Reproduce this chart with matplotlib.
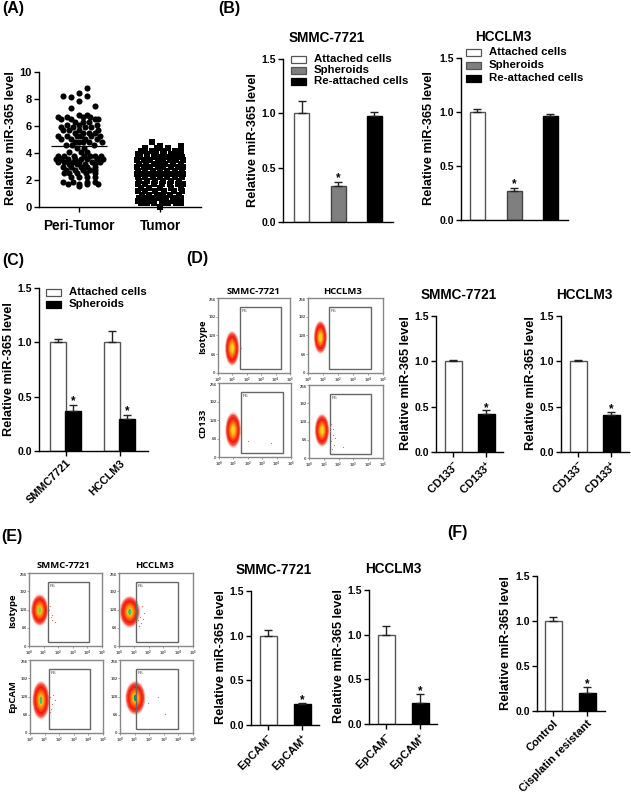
import matplotlib
matplotlib.use('Agg')
import matplotlib.pyplot as plt
from matplotlib.patches import Ellipse, Rectangle

plt.rcParams['font.family'] = ['Liberation Sans', 'DejaVu Sans']
plt.rcParams['font.weight'] = 'bold'
plt.rcParams['mathtext.fontset'] = 'custom'
plt.rcParams['mathtext.bf'] = 'Liberation Sans:bold'
plt.rcParams['mathtext.rm'] = 'Liberation Sans:bold'

W, H = 631, 793
YLABEL = 'Relative miR-365 level'

peri_levels = [8.79, 8.47, 8.25, 8.22, 8.12, 7.85, 7.5, 7.33, 6.85, 6.7, 6.5, 6.3, 6.1, 5.9, 5.7, 5.5, 5.25,
               5.05, 4.8, 4.6, 4.35, 4.1, 3.75, 3.55, 3.35, 3.15, 2.95, 2.75, 2.55, 2.25, 1.85, 1.7, 1.55]
peri_offsets = [[0.1], [0.0], [-0.2], [0.1], [-0.1], [0.0], [0.2], [-0.1], [0.0, 0.1],
                [-0.26, -0.15, 0.05, 0.14], [-0.22, -0.1, 0.2, 0.24], [-0.05, 0.05, 0.12],
                [-0.15, 0.0, 0.22], [-0.22, -0.08, 0.08, 0.15], [-0.2, -0.12, 0.0, 0.24],
                [-0.05, 0.05, 0.12, 0.2], [-0.26, -0.15, -0.02, 0.02, 0.15, 0.26],
                [-0.22, -0.1, 0.08, 0.22], [-0.05, 0.0, 0.05, 0.12, 0.28], [-0.16, -0.09, 0.18],
                [-0.02, 0.06], [-0.12, 0.02, 0.1],
                [-0.26, -0.18, -0.06, 0.06, 0.13, 0.2, 0.27],
                [-0.29, -0.22, -0.14, -0.05, 0.02, 0.1, 0.22, 0.29],
                [-0.26, -0.18, -0.08, 0.0, 0.16, 0.26], [-0.12, -0.03, 0.08, 0.2],
                [-0.2, -0.1, 0.03, 0.1, 0.2], [-0.16, -0.05, 0.05, 0.14, 0.2],
                [-0.18, -0.12, -0.02, 0.09, 0.2], [-0.1, 0.0, 0.1, 0.2],
                [-0.2, -0.08, 0.1, 0.2], [-0.14, 0.0, 0.1, 0.24], [0.0]]
tumor_levels = [4.85, 4.55, 4.35, 4.15, 3.95, 3.7, 3.45, 3.2, 2.95, 2.7, 2.45, 2.2, 1.95, 1.7, 1.42, 1.15, 0.9, 0.66, 0.45, 0.28, 0.0]
tumor_offsets = [[-0.1], [0.0, 0.26], [-0.18, -0.04, 0.1, 0.26], [-0.24, -0.1, 0.04, 0.18, 0.26],
                 [-0.27, -0.16, -0.05, 0.05, 0.13, 0.24], [-0.25, -0.16, -0.08, 0.02, 0.1, 0.2, 0.27],
                 [-0.28, -0.2, -0.12, -0.03, 0.04, 0.12, 0.2, 0.28],
                 [-0.26, -0.17, -0.08, 0.0, 0.06, 0.16, 0.26],
                 [-0.28, -0.2, -0.12, -0.03, 0.04, 0.13, 0.22, 0.28],
                 [-0.27, -0.18, -0.09, 0.0, 0.09, 0.18, 0.27],
                 [-0.28, -0.2, -0.13, -0.04, 0.05, 0.15, 0.22, 0.28],
                 [-0.27, -0.19, -0.09, 0.0, 0.09, 0.19, 0.27],
                 [-0.26, -0.16, -0.06, 0.04, 0.14, 0.24], [-0.27, -0.18, -0.08, 0.02, 0.12, 0.22, 0.28],
                 [-0.24, -0.13, 0.0, 0.13, 0.26], [-0.27, -0.18, -0.06, 0.05, 0.17, 0.27],
                 [-0.22, -0.14, -0.04, 0.04, 0.12, 0.24], [-0.26, -0.18, -0.08, 0.0, 0.08, 0.18, 0.26],
                 [-0.27, -0.13, 0.04, 0.16, 0.26],
                 [-0.24, -0.16, -0.07, 0.02, 0.1, 0.2, 0.26], [0.0]]
peri_mean = 4.55
tumor_mean = 2.35

# bar panels
b_labels = ['Attached cells', 'Spheroids', 'Re-attached cells']
b1_values = [1.0, 0.33, 0.98]
b1_errors = [0.115, 0.035, 0.03]
b2_values = [1.0, 0.27, 0.96]
b2_errors = [0.025, 0.025, 0.02]

c_groups = ['SMMC7721', 'HCCLM3']
c_attached = [1.0, 1.0]
c_attached_err = [0.03, 0.105]
c_spheroids = [0.37, 0.29]
c_spheroids_err = [0.05, 0.04]

cd133_labels = ['CD133$^{-}$', 'CD133$^{+}$']
d1_values = [1.0, 0.42]
d1_errors = [0.015, 0.04]
d2_values = [1.0, 0.41]
d2_errors = [0.02, 0.03]

epcam_labels = ['EpCAM$^{-}$', 'EpCAM$^{+}$']
e1_values = [1.0, 0.23]
e1_errors = [0.065, 0.02]
e2_values = [1.0, 0.24]
e2_errors = [0.10, 0.10]

f_labels = ['Control', 'Cisplatin resistant']
f_values = [1.0, 0.20]
f_errors = [0.04, 0.07]

# flow plots: cloud centre x (decades), centre y, half width, half height, gate left/right
d_clouds = [(0.98, 84, 0.5, 60), (0.83, 122, 0.45, 57), (0.98, 93, 0.55, 62), (0.88, 97, 0.5, 58)]
d_gates = [(1.5, 4.4), (1.41, 4.17), (1.52, 4.42), (1.4, 4.19)]
e_clouds = [(0.73, 126, 0.6, 56), (0.73, 120, 0.7, 56), (0.75, 115, 0.6, 68), (1.05, 123, 0.7, 60)]
e_gates = [(1.28, 4.11), (1.14, 3.98), (1.27, 4.09), (1.11, 3.98)]
e_specks_x = [[1.4, 1.5, 1.6, 1.45, 1.8, 1.55], [1.3, 1.45, 1.6, 1.5, 1.7, 1.35, 1.55, 1.25], [1.4, 1.5, 1.7, 1.45, 1.6, 1.35], [2.6, 3.1, 1.9]]
e_specks_y = [[125, 100, 90, 140, 85, 110], [130, 100, 95, 80, 115, 70, 140, 90], [125, 100, 115, 85, 135, 75], [125, 65, 105]]
d_specks_x = [[1.6], [], [2.0, 3.6], [1.45, 1.6, 1.5, 1.7, 1.4, 1.55, 1.75, 2.3, 1.5, 1.6]]
d_specks_y = [[85], [], [55, 50], [110, 80, 60, 45, 95, 30, 70, 40, 120, 100]]
flow_yticks = [0, 64, 128, 192, 256]
flow_xticks = [0, 1, 2, 3, 4, 5]
cloud_scales = [1.0, 0.93, 0.85, 0.72, 0.6, 0.48, 0.36, 0.24]
cloud_colors = ['#ffd8d0', '#fb8f80', '#f44030', '#f01a10', '#f84010', '#ff7010', '#ffa010', '#ffd020']


def add_axes_px(fig, x0, x1, y_top, y_bottom):
    return fig.add_axes([x0 / W, 1 - y_bottom / H, (x1 - x0) / W, (y_bottom - y_top) / H])


def style_axis(ax):
    for side in ['top', 'right']:
        ax.spines[side].set_visible(False)
    for side in ['left', 'bottom']:
        ax.spines[side].set_linewidth(1.0)
    ax.patch.set_alpha(0)
    ax.tick_params(axis='y', length=3.5, width=1.0, labelsize=7.5, pad=1.5)
    ax.tick_params(axis='x', length=3.5, width=1.0, labelsize=8, pad=1.5)


def bar_panel(fig, box, centers, values, errors, colors, tick_labels=None, star_idx=(1,), width_px=16):
    x0, x1, y_top, y_bottom = box
    ax = add_axes_px(fig, x0, x1, y_top, y_bottom)
    ax.set_xlim(x0, x1)
    ax.set_ylim(0, 1.5)
    for c, v, e, col in zip(centers, values, errors, colors):
        edge = '#555555' if col == 'white' else ('#444444' if col != 'black' else 'black')
        ax.bar(c, v, width=width_px, color=col, edgecolor=edge, linewidth=1.0)
        ax.errorbar(c, v, yerr=[[0], [e]], color='#222222', capsize=2.6, elinewidth=1.0, capthick=1.0)
    for i in star_idx:
        ax.text(centers[i], values[i] + errors[i] + 0.095, '*', ha='center', va='top', fontsize=8.5)
    style_axis(ax)
    ax.set_yticks([0, 0.5, 1.0, 1.5], ['0.0', '0.5', '1.0', '1.5'])
    ax.set_xticks([] if tick_labels is None else list(tick_labels[0]))
    if tick_labels is not None:
        ax.set_xticklabels(tick_labels[1], rotation=45, ha='right', rotation_mode='anchor', fontsize=8)
    return ax


def flow_panel(fig, box, cloud, gate, specks, core=None):
    x0, x1, y_top, y_bottom = box
    ax = add_axes_px(fig, x0, x1, y_top, y_bottom)
    ax.set_xlim(0, 5)
    ax.set_ylim(0, 256)
    cx, cy, hw, hh = cloud
    ax.plot(specks[0], specks[1], ls='none', marker='s', ms=0.8, mew=0, color='#f07060')
    for scale, col in zip(cloud_scales, cloud_colors):
        ax.add_patch(Ellipse((cx, cy), 2 * hw * scale, 2 * hh * scale, facecolor=col, edgecolor='none'))
    if core is not None:
        ax.add_patch(Ellipse((cx, cy), 2 * hw * 0.16, 2 * hh * 0.2, facecolor=core, edgecolor='none'))
    ax.add_patch(Rectangle((gate[0], 14), gate[1] - gate[0], 212, fill=False, edgecolor='#666666', linewidth=1.0))
    ax.text(gate[0] + 0.12, 212, 'R5', fontsize=3.2, color='#444444', ha='left', va='center', fontweight='normal')
    for spine in ax.spines.values():
        spine.set_color('#888888')
        spine.set_linewidth(1.0)
    ax.set_xticks(flow_xticks, [f'10$^{{{t}}}$' for t in flow_xticks])
    ax.set_yticks(flow_yticks, [str(t) for t in flow_yticks])
    ax.tick_params(length=1.2, width=0.4, labelsize=3.2, pad=0.5, color='#555555', labelcolor='#555555')
    ax.get_yticklabels()[-1].set_va('top')
    return ax


fig = plt.figure(figsize=(W / 100, H / 100), dpi=100)

# background layer in image pixels, for headings and legends
canvas = fig.add_axes([0, 0, 1, 1])
canvas.set_xlim(0, W)
canvas.set_ylim(H, 0)
canvas.axis('off')


def legend_rows(x, w, ys, colors, labels, text_x):
    for y, col, lab in zip(ys, colors, labels):
        edge = '#555555' if col != 'black' else 'black'
        canvas.add_patch(Rectangle((x, y - 3.5), w, 7, facecolor=col, edgecolor=edge, linewidth=0.9))
        canvas.text(text_x, y, lab, fontsize=8.2, ha='left', va='center')


for lab, x, y in [('(A)', 2, 8), ('(B)', 218, 8), ('(C)', 2, 260), ('(D)', 186, 259), ('(E)', 1, 536), ('(F)', 447, 533)]:
    canvas.text(x, y, lab, fontsize=11.5, ha='left', va='center')
for lab, x, y in [('SMMC-7721', 327, 38), ('HCCLM3', 503, 37), ('SMMC-7721', 459, 295), ('HCCLM3', 584, 295),
                  ('SMMC-7721', 274, 570), ('HCCLM3', 393, 569)]:
    canvas.text(x, y, lab, fontsize=9.8, ha='center', va='center')
for lab, x, y in [('SMMC-7721', 254, 292), ('HCCLM3', 343, 292), ('SMMC-7721', 64, 566), ('HCCLM3', 154, 566)]:
    canvas.text(x, y, lab, fontsize=6.8, ha='center', va='center', family=['Open Sans', 'DejaVu Sans'])
for lab, x, y in [('Isotype', 203, 337), ('CD133', 203, 423), ('Isotype', 13, 611), ('EpCAM', 13, 697)]:
    canvas.text(x, y, lab, fontsize=6.8, rotation=90, ha='center', va='center', family=['Open Sans', 'DejaVu Sans'])

# y labels, all the same size, placed beside their axes
for x, y in [(11, 138), (253, 140), (429, 138), (9, 369), (406, 383), (531, 383), (221, 657), (339, 656), (506, 643)]:
    canvas.text(x, y, YLABEL, fontsize=9.2, rotation=90, ha='center', va='center')

legend_rows(291, 15, [59, 70, 81], ['white', '#7f7f7f', 'black'], b_labels, 314)
legend_rows(466, 15, [52, 65, 78], ['white', '#7f7f7f', 'black'], b_labels, 489)
legend_rows(46, 15, [292, 304], ['white', 'black'], ['Attached cells', 'Spheroids'], 69)

# (A) scatter
ax = add_axes_px(fig, 39, 201, 72, 207)
ax.set_xlim(-0.494, 1.506)
ax.set_ylim(0, 10)
peri_x = [o for off in peri_offsets for o in off]
peri_y = [lv for lv, off in zip(peri_levels, peri_offsets) for _ in off]
tumor_x = [1 + o for off in tumor_offsets for o in off]
tumor_y = [lv for lv, off in zip(tumor_levels, tumor_offsets) for _ in off]
ax.plot(peri_x, peri_y, ls='none', marker='o', ms=4.4, mew=0, color='black', clip_on=False)
ax.plot(tumor_x, tumor_y, ls='none', marker='s', ms=4.3, mew=0, color='black', clip_on=False)
ax.hlines(peri_mean, -0.34, 0.34, color='black', lw=0.9)
ax.hlines(tumor_mean, 0.69, 1.31, color='black', lw=0.9)
style_axis(ax)
ax.set_yticks([0, 2, 4, 6, 8, 10])
ax.set_xticks([0, 1], ['Peri-Tumor', 'Tumor'])
ax.tick_params(axis='y', labelsize=8)
ax.tick_params(axis='x', labelsize=9.8, pad=5)

# (B)
grey_set = ['white', '#7f7f7f', 'black']
bar_panel(fig, (283, 393, 59, 222), [302, 338, 374], b1_values, b1_errors, grey_set, width_px=15)
bar_panel(fig, (461, 568, 58, 220), [477, 514, 550], b2_values, b2_errors, grey_set, width_px=15)

# (C)
ax = bar_panel(fig, (39, 148, 288, 451), [58, 112, 73, 127], c_attached + c_spheroids,
               c_attached_err + c_spheroids_err, ['white', 'white', 'black', 'black'], star_idx=(2, 3), width_px=15.5)
ax.set_xticks([66, 120], c_groups, rotation=45, ha='right', rotation_mode='anchor', fontsize=7.8)

# (D)
two = ['white', 'black']
bar_panel(fig, (436, 503, 316, 452), [453, 486], d1_values, d1_errors, two, ([453, 486], cd133_labels), width_px=17)
bar_panel(fig, (561, 629, 316, 452), [578, 611], d2_values, d2_errors, two, ([578, 611], cd133_labels), width_px=17)

d_boxes = [(218, 290, 298, 373), (308, 383, 298, 373), (219, 291, 383, 457), (309, 383, 385, 458)]
for i, box in enumerate(d_boxes):
    flow_panel(fig, box, d_clouds[i], d_gates[i], (d_specks_x[i], d_specks_y[i]))

# (E)
bar_panel(fig, (251, 319, 591, 725), [268, 302], e1_values, e1_errors, two, ([268, 302], epcam_labels), width_px=17)
bar_panel(fig, (369, 437, 590, 724), [386, 420], e2_values, e2_errors, two, ([386, 420], epcam_labels), width_px=17)

e_boxes = [(29, 102, 573, 646), (119, 193, 573, 646), (30, 103, 660, 733), (120, 193, 660, 733)]
e_cores = ['#80d040', '#40c060', '#40c060', '#109060']
for i, box in enumerate(e_boxes):
    flow_panel(fig, box, e_clouds[i], e_gates[i], (e_specks_x[i], e_specks_y[i]), core=e_cores[i])

# (F)
bar_panel(fig, (537, 605, 576, 711), [553, 587], f_values, f_errors, two, ([553, 587], f_labels), width_px=17)

fig.savefig('out.png', dpi=100)
